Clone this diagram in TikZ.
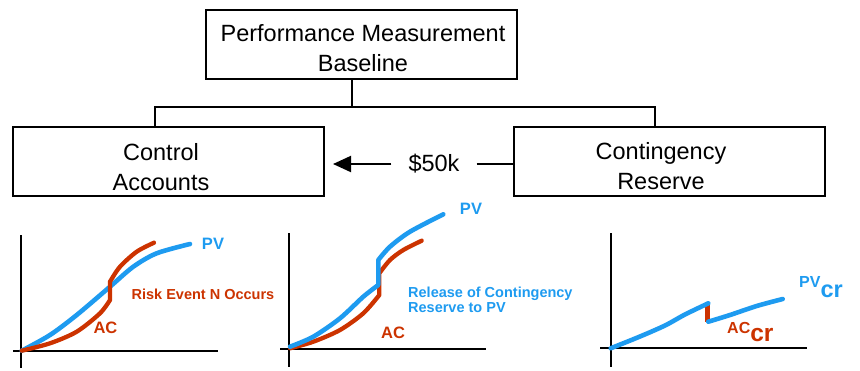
\documentclass[tikz,border=0pt]{standalone}
\usepackage{fontspec}
\setmainfont{Liberation Sans}
\usetikzlibrary{arrows.meta}
\definecolor{pvblue}{RGB}{30,155,240}
\definecolor{acred}{RGB}{204,51,0}
\begin{document}
\begin{tikzpicture}[x=1pt,y=-1pt,
  box/.style={draw,line width=2pt,minimum width=311pt,minimum height=69pt,inner sep=0pt},
  boxtext/.style={font=\fontsize{23.5}{29.5}\selectfont,align=center,inner sep=0pt},
  tree/.style={line width=2pt},
  axisline/.style={line width=1.5pt},
  pvline/.style={pvblue,line width=4.6pt,line cap=round,line join=round},
  acline/.style={acred,line width=4.3pt,line cap=round,line join=round},
  pvlab/.style={pvblue,font=\bfseries\fontsize{16.5}{19}\selectfont,inner sep=0pt},
  aclab/.style={acred,font=\bfseries\fontsize{16.5}{19}\selectfont,inner sep=0pt},
  note/.style={font=\bfseries\fontsize{14.5}{15.5}\selectfont,inner sep=0pt,align=left}]
\useasboundingbox (0,0) rectangle (860,370);

% boxes
\node[box] (pmb) at (361,44) {};
\node[box] (ca) at (168.5,161) {};
\node[box] (cr) at (669,161) {};
\node[boxtext] (pmbtext) at (363,48) {Performance Measurement\\Baseline};
\node[boxtext] (catext) at (161,167) {Control\\Accounts};
\node[boxtext] (crtext) at (661,166) {Contingency\\Reserve};

% tree connectors
\coordinate (j) at (352,107);
\coordinate (jl) at (155,107);
\coordinate (jr) at (655,107);
\draw[tree] (pmb.south -| j) -- (j);
\draw[tree] (ca.north -| jl) |- (jr) -- (cr.north -| jr);

% transfer
\node[font=\fontsize{23.5}{28}\selectfont,inner ysep=0pt,inner xsep=17pt] (amt) at (434,164) {\$50k};
\draw[line width=2pt,-{Triangle[length=18pt,width=16pt]},shorten >=8pt] (amt.west) -- (amt.west -| ca.east);
\draw[line width=2pt] (amt.east) -- (amt.east -| cr.west);

% panel 1
\draw[axisline] (21,235) -- (21,368);
\draw[axisline] (13,351) -- (218,351);
\draw[pvline] plot[smooth] coordinates {(21.7,350.7) (50,335) (76.7,315) (110,286.7) (133.3,266.7) (156.7,253.3) (190,244)};
\draw[acline] plot[smooth] coordinates {(21.7,350.7) (50,343.3) (76.7,331.7) (100,313.3) (110,300)} -- plot[smooth] coordinates {(110,281.7) (120,266.7) (136.7,251.7) (154,242.7)};
\node[pvlab] (pv1) at (213,244) {PV};
\node[note,acred] (risk) at (203,294) {Risk Event N Occurs};
\node[aclab] (ac1) at (105.5,328) {AC};

% panel 2
\draw[axisline] (289,233) -- (289,367);
\draw[axisline] (280,349) -- (486,349);
\draw[acline] plot[smooth] coordinates {(290,348.3) (313.3,341.7) (340,330) (363.3,313.3) (379.3,295)} -- plot[smooth] coordinates {(379.3,273.3) (390,260) (403.3,250) (421.7,240.7)};
\draw[pvline] plot[smooth] coordinates {(290,346.7) (313.3,336.7) (340,318.3) (363.3,296.7) (378.3,285)} -- plot[smooth] coordinates {(378.3,260) (390,246.7) (410,231.7) (443.3,214.3)};
\node[pvlab] (pv2) at (471,209) {PV};
\node[note,pvblue,anchor=west] (release) at (408,300) {Release of Contingency\\Reserve to PV};
\node[aclab] (ac2) at (393,333) {AC};

% panel 3
\draw[axisline] (611,233) -- (611,367);
\draw[axisline] (600,348) -- (807,348);
\draw[acred,line width=4.3pt] (707.5,303) -- (707.5,322);
\draw[pvline] plot[smooth] coordinates {(610.7,348.3) (640,336.5) (665,325.5) (685,314.5) (708.3,303.3)};
\draw[pvline] plot[smooth] coordinates {(708.3,321.7) (730,315) (756.7,306) (782.7,299)};
\node[pvblue,font=\bfseries,inner sep=0pt,anchor=base west] (pvcr) at (799,287)
  {{\fontsize{16}{18}\selectfont PV}\raisebox{-10pt}{\fontsize{23.5}{28}\selectfont cr}};
\node[acred,font=\bfseries,inner sep=0pt,anchor=base west] (accr) at (727,333)
  {{\fontsize{16}{18}\selectfont AC}\raisebox{-8.5pt}{\fontsize{24.5}{28}\selectfont cr}};
\end{tikzpicture}
\end{document}
